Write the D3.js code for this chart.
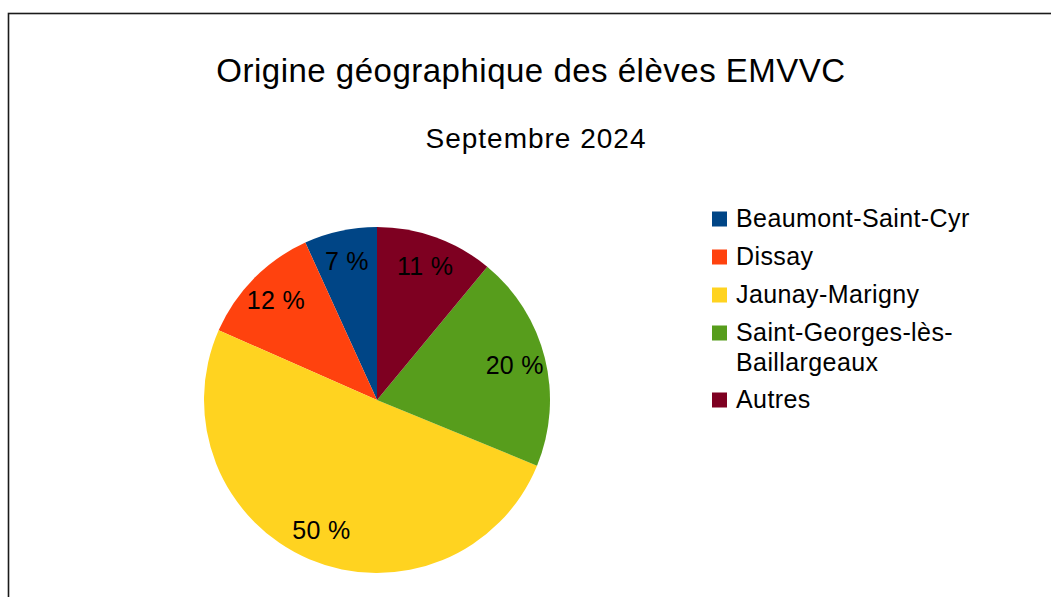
<!DOCTYPE html>
<html>
<head>
<meta charset="utf-8">
<script src="https://cdn.jsdelivr.net/npm/d3@7"></script>
<style>
  html, body { margin: 0; padding: 0; background: #fff; }
  svg { display: block; font-family: "Liberation Sans", Arial, sans-serif; }
</style>
</head>
<body>
<svg id="chart" width="1051" height="597"></svg>
<script>
// Data (share of pupils, %)
const communes = ['Beaumont-Saint-Cyr', 'Dissay', 'Jaunay-Marigny', 'Saint-Georges-lès-Baillargeaux', 'Autres'];
const legendLines = [['Beaumont-Saint-Cyr'], ['Dissay'], ['Jaunay-Marigny'], ['Saint-Georges-lès-', 'Baillargeaux'], ['Autres']];
const shares = [6.8, 11.6, 50.4, 20.2, 11.0];
const palette = ['#004586', '#ff420e', '#ffd320', '#579d1c', '#7e0021'];

const width = 1051, height = 597;
const svg = d3.select('#chart');

// outer frame (runs past the right and bottom edges)
svg.append('rect').attr('x', 8.5).attr('y', 13.5).attr('width', 1100).attr('height', 700)
  .attr('fill', 'none').attr('stroke', '#1a1a1a').attr('stroke-width', 1.6);

svg.append('text').attr('x', 531).attr('y', 82).attr('text-anchor', 'middle')
  .style('font-size', '33px').style('letter-spacing', '0.5px').attr('fill', '#000')
  .text('Origine géographique des élèves EMVVC');
svg.append('text').attr('x', 536).attr('y', 148).attr('text-anchor', 'middle')
  .style('font-size', '28px').style('letter-spacing', '1px').attr('fill', '#000')
  .text('Septembre 2024');

const color = d3.scaleOrdinal().domain(communes).range(palette);
const cx = 377, cy = 400, r = 173;

// slices go counter-clockwise from 12 o'clock
const pie = d3.pie().sort(null).value(d => d.v).startAngle(0).endAngle(-2 * Math.PI);
const arcs = pie(communes.map((c, i) => ({name: c, v: shares[i]})));
const arc = d3.arc().innerRadius(0).outerRadius(r);
const labelArc = d3.arc().innerRadius(142).outerRadius(142);
const total = d3.sum(shares);

const g = svg.append('g').attr('transform', `translate(${cx},${cy})`);
g.selectAll('path').data(arcs).enter().append('path')
  .attr('d', arc).attr('fill', d => color(d.data.name));

g.selectAll('text').data(arcs).enter().append('text')
  .attr('transform', d => `translate(${labelArc.centroid(d)})`)
  .attr('text-anchor', 'middle').attr('dy', '0.35em')
  .style('font-size', '25px').style('letter-spacing', '0.3px').attr('fill', '#000')
  .text(d => Math.round(d.data.v / total * 100) + ' %');

// legend
const legendY = [219, 257, 295, 333, 400];
const legend = svg.append('g');
communes.forEach((c, i) => {
  const item = legend.append('g').attr('transform', `translate(712,${legendY[i]})`);
  item.append('rect').attr('x', 0).attr('y', -7.5).attr('width', 15).attr('height', 15).attr('fill', color(c));
  legendLines[i].forEach((line, j) => {
    item.append('text').attr('x', 24).attr('y', j * 30 + 8)
      .style('font-size', '25px').style('letter-spacing', '0.4px').attr('fill', '#000').text(line);
  });
});
</script>
</body>
</html>
